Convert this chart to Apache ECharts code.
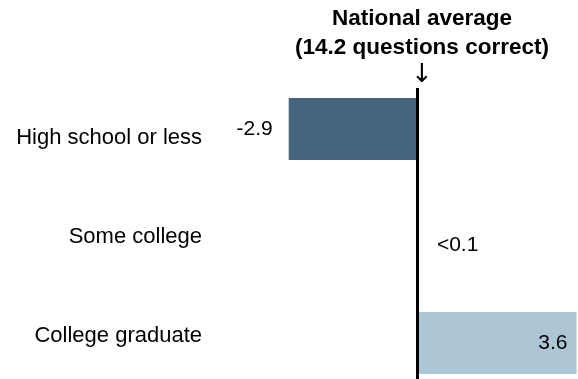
<!DOCTYPE html>
<html>
<head>
<meta charset="utf-8">
<script src="https://cdn.jsdelivr.net/npm/echarts@6/dist/echarts.min.js"></script>
<style>html,body{margin:0;padding:0;background:#fff}#c{width:578px;height:379px}</style>
</head>
<body>
<div id="c"></div>
<script>
const categories = ['High school or less', 'Some college', 'College graduate'];
const values = [-2.9, 0.04, 3.6];
const valueLabels = ['-2.9', '<0.1', '3.6'];
const barColors = ['#46667e', '#dde7ee', '#adc6d5'];
const titleLines = ['National average', '(14.2 questions correct)'];

const FONT = '"Liberation Sans", Arial, sans-serif';
const chart = echarts.init(document.getElementById('c'), null, {renderer: 'canvas'});

const labelCfg = [
  {position: 'left', distance: 16},
  {position: 'right', distance: 18, offset: [0, 9]},
  {position: 'insideRight', distance: 9}
];

const seriesData = values.map((v, i) => ({
  value: v,
  itemStyle: {color: barColors[i]},
  label: Object.assign({show: true, formatter: valueLabels[i]}, labelCfg[i])
}));

chart.setOption({
  animation: false,
  title: {
    text: titleLines.join('\n') + '\n{a|↓}',
    left: 417,
    top: -1,
    textAlign: 'center',
    textStyle: {
      fontFamily: FONT, fontSize: 22.5, fontWeight: 'bold', color: '#000', lineHeight: 29,
      rich: {a: {fontFamily: '"DejaVu Sans", sans-serif', fontSize: 26, fontWeight: 'normal', lineHeight: 27, color: '#000'}}
    }
  },
  grid: [
    {left: 240, right: 1.5, top: 75.5, height: 321, outerBoundsMode: 'none', containLabel: false},
    {left: 240, right: 1.5, top: 88, height: 297, outerBoundsMode: 'none', containLabel: false}
  ],
  xAxis: [
    {gridIndex: 0, type: 'value', min: -4, max: 3.6, show: false},
    {gridIndex: 1, type: 'value', min: -4, max: 3.6, interval: 4, z: 5,
     axisLine: {show: false}, axisTick: {show: false}, axisLabel: {show: false},
     splitLine: {show: true, lineStyle: {color: ['rgba(0,0,0,0)', '#000'], width: 3}}}
  ],
  yAxis: [
    {gridIndex: 0, type: 'category', data: categories, inverse: true, show: false},
    {gridIndex: 1, type: 'category', data: categories, inverse: true,
     axisLine: {show: false}, axisTick: {show: false}, splitLine: {show: false},
     axisLabel: {margin: 38, fontFamily: FONT, fontSize: 22, color: '#000'}}
  ],
  series: [{
    type: 'bar',
    xAxisIndex: 0, yAxisIndex: 0,
    barWidth: 62,
    data: seriesData,
    label: {fontFamily: FONT, fontSize: 21, color: '#000'}
  }]
});
</script>
</body>
</html>
